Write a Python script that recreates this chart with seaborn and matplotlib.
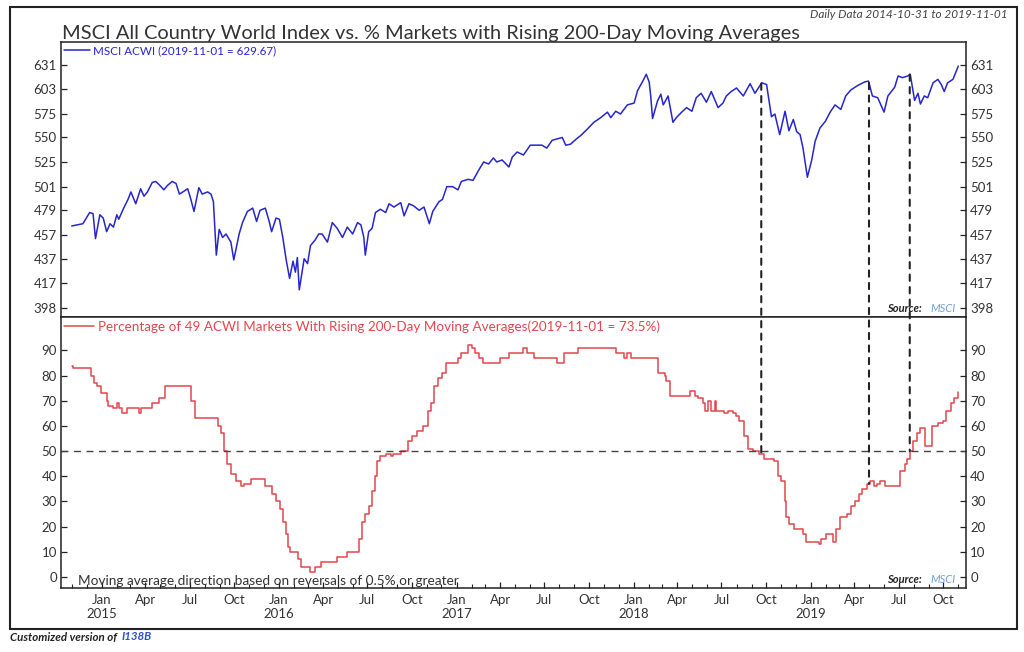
import matplotlib
matplotlib.use("Agg")
import matplotlib.pyplot as plt
import matplotlib.dates as mdates
from matplotlib.patches import Rectangle, ConnectionPatch
from matplotlib.ticker import FixedLocator, FuncFormatter, NullLocator
import numpy as np
import pandas as pd
import seaborn as sns

# ------------------------------
# Data
# ------------------------------
acwi_dates = [
    "2014-10-31", "2014-11-23", "2014-12-07", "2014-12-14", "2014-12-19", "2014-12-28",
    "2015-01-04", "2015-01-11", "2015-01-18", "2015-01-25", "2015-02-01", "2015-02-05",
    "2015-02-14", "2015-02-24", "2015-03-02", "2015-03-12", "2015-03-22", "2015-03-29",
    "2015-04-05", "2015-04-15", "2015-04-22", "2015-04-29", "2015-05-09", "2015-05-16",
    "2015-05-26", "2015-06-03", "2015-06-10", "2015-06-17", "2015-06-27", "2015-07-03",
    "2015-07-10", "2015-07-20", "2015-07-27", "2015-08-07", "2015-08-14", "2015-08-19",
    "2015-08-25", "2015-08-31", "2015-09-07", "2015-09-14", "2015-09-24", "2015-09-30",
    "2015-10-11", "2015-10-18", "2015-10-28", "2015-11-08", "2015-11-16", "2015-11-23",
    "2015-12-04", "2015-12-12", "2015-12-17", "2015-12-26", "2016-01-02", "2016-01-09",
    "2016-01-16", "2016-01-23", "2016-01-30", "2016-02-04", "2016-02-08", "2016-02-12",
    "2016-02-22", "2016-02-29", "2016-03-06", "2016-03-16", "2016-03-23", "2016-03-30",
    "2016-04-10", "2016-04-20", "2016-04-30", "2016-05-11", "2016-05-21", "2016-06-01",
    "2016-06-11", "2016-06-18", "2016-06-24", "2016-06-27", "2016-07-04", "2016-07-11",
    "2016-07-18", "2016-07-28", "2016-08-08", "2016-08-15", "2016-08-25", "2016-09-08",
    "2016-09-15", "2016-09-25", "2016-10-05", "2016-10-16", "2016-10-26", "2016-11-06",
    "2016-11-13", "2016-11-26", "2016-12-03", "2016-12-12", "2016-12-24", "2017-01-04",
    "2017-01-11", "2017-01-25", "2017-02-04", "2017-02-17", "2017-02-26", "2017-03-08",
    "2017-03-18", "2017-03-25", "2017-04-05", "2017-04-19", "2017-04-26", "2017-05-06",
    "2017-05-19", "2017-06-02", "2017-06-16", "2017-06-26", "2017-07-06", "2017-07-17",
    "2017-07-31", "2017-08-07", "2017-08-14", "2017-08-24", "2017-09-04", "2017-09-14",
    "2017-09-28", "2017-10-11", "2017-10-25", "2017-11-08", "2017-11-15", "2017-11-25",
    "2017-12-05", "2017-12-19", "2018-01-02", "2018-01-09", "2018-01-19", "2018-01-27",
    "2018-02-02", "2018-02-05", "2018-02-09", "2018-02-19", "2018-02-26", "2018-03-03",
    "2018-03-13", "2018-03-23", "2018-03-30", "2018-04-10", "2018-04-20", "2018-05-01",
    "2018-05-10", "2018-05-20", "2018-05-31", "2018-06-10", "2018-06-24", "2018-07-04",
    "2018-07-11", "2018-07-21", "2018-08-01", "2018-08-15", "2018-08-29", "2018-09-08",
    "2018-09-22", "2018-10-02", "2018-10-12", "2018-10-19", "2018-10-29", "2018-11-09",
    "2018-11-17", "2018-11-26", "2018-12-03", "2018-12-10", "2018-12-16", "2018-12-25",
    "2019-01-03", "2019-01-10", "2019-01-20", "2019-01-31", "2019-02-10", "2019-02-20",
    "2019-03-04", "2019-03-14", "2019-03-25", "2019-04-08", "2019-04-22", "2019-04-30",
    "2019-05-08", "2019-05-19", "2019-06-01", "2019-06-09", "2019-06-23", "2019-06-30",
    "2019-07-09", "2019-07-20", "2019-07-25", "2019-08-03", "2019-08-10", "2019-08-15",
    "2019-08-23", "2019-08-30", "2019-09-10", "2019-09-20", "2019-09-27", "2019-10-03",
    "2019-10-10", "2019-10-21", "2019-11-01",
]
acwi_values = [
    465, 467, 477, 476, 454, 475,
    472, 460, 467, 464, 475, 471,
    480, 489, 496, 485, 499, 492,
    496, 505, 506, 503, 498, 502,
    506, 504, 494, 496, 499, 490,
    478, 500, 494, 496, 494, 487,
    440, 462, 455, 458, 451, 436,
    458, 468, 478, 481, 469, 479,
    481, 469, 460, 472, 471, 455,
    436, 421, 435, 426, 438, 412,
    437, 433, 448, 453, 458, 458,
    451, 468, 463, 455, 464, 458,
    468, 466, 455, 440, 460, 463,
    477, 480, 477, 485, 482, 486,
    474, 485, 483, 479, 482, 467,
    478, 487, 489, 501, 501, 498,
    506, 508, 507, 518, 525, 523,
    529, 525, 527, 520, 530, 535,
    532, 542, 542, 542, 539, 547,
    549, 550, 542, 543, 548, 552,
    559, 566, 571, 577, 571, 578,
    575, 585, 587, 601, 611, 620,
    611, 596, 570, 589, 597, 585,
    595, 566, 571, 577, 582, 578,
    593, 598, 588, 600, 582, 587,
    595, 600, 604, 595, 609, 598,
    610, 608, 572, 575, 553, 578,
    557, 569, 556, 553, 539, 510,
    527, 546, 560, 567, 577, 585,
    580, 595, 602, 607, 611, 612,
    595, 593, 577, 595, 605, 618,
    616, 618, 620, 590, 598, 586,
    595, 593, 610, 614, 608, 600,
    610, 614, 629.67,
]

pct_dates = [
    "2014-10-31", "2014-11-03", "2014-12-09", "2014-12-16", "2014-12-23", "2014-12-30",
    "2015-01-11", "2015-01-14", "2015-01-25", "2015-02-01", "2015-02-05", "2015-02-11",
    "2015-02-21", "2015-03-19", "2015-03-22", "2015-04-15", "2015-04-29", "2015-05-12",
    "2015-07-03", "2015-07-12", "2015-08-29", "2015-09-03", "2015-09-10", "2015-09-17",
    "2015-09-24", "2015-10-04", "2015-10-14", "2015-10-21", "2015-11-04", "2015-12-04",
    "2015-12-18", "2015-12-26", "2016-01-03", "2016-01-09", "2016-01-16", "2016-01-20",
    "2016-01-23", "2016-02-09", "2016-02-15", "2016-03-06", "2016-03-16", "2016-03-27",
    "2016-04-30", "2016-05-21", "2016-06-14", "2016-06-21", "2016-06-27", "2016-07-04",
    "2016-07-11", "2016-07-18", "2016-07-22", "2016-07-28", "2016-08-08", "2016-08-20",
    "2016-08-24", "2016-09-08", "2016-09-22", "2016-10-02", "2016-10-12", "2016-10-23",
    "2016-11-03", "2016-11-10", "2016-11-16", "2016-11-23", "2016-12-03", "2016-12-10",
    "2017-01-04", "2017-01-11", "2017-01-25", "2017-02-01", "2017-02-08", "2017-02-17",
    "2017-02-24", "2017-03-31", "2017-04-19", "2017-05-19", "2017-05-26", "2017-06-09",
    "2017-07-28", "2017-08-11", "2017-09-08", "2017-11-25", "2017-12-12", "2017-12-19",
    "2017-12-26", "2018-02-21", "2018-03-07", "2018-03-09", "2018-03-16", "2018-04-27",
    "2018-05-07", "2018-05-14", "2018-05-24", "2018-05-28", "2018-06-03", "2018-06-10",
    "2018-06-17", "2018-06-20", "2018-07-07", "2018-07-14", "2018-07-24", "2018-07-31",
    "2018-08-07", "2018-08-17", "2018-08-24", "2018-09-03", "2018-09-17", "2018-09-27",
    "2018-10-18", "2018-10-25", "2018-11-01", "2018-11-08", "2018-11-11", "2018-11-18",
    "2018-11-28", "2018-12-15", "2018-12-22", "2019-01-19", "2019-01-22", "2019-02-01",
    "2019-02-15", "2019-02-21", "2019-03-03", "2019-03-17", "2019-03-24", "2019-04-03",
    "2019-04-10", "2019-04-17", "2019-04-27", "2019-05-04", "2019-05-11", "2019-05-18",
    "2019-05-24", "2019-06-03", "2019-07-04", "2019-07-14", "2019-07-19", "2019-07-24",
    "2019-07-31", "2019-08-07", "2019-08-14", "2019-08-24", "2019-09-07", "2019-09-20",
    "2019-09-30", "2019-10-07", "2019-10-16", "2019-10-24", "2019-11-01",
]
pct_values = [
    84, 83, 80, 77, 76, 73,
    70, 68, 67, 69, 67, 65,
    67, 65, 67, 69, 71, 76,
    70, 63, 60, 57, 50, 45,
    41, 38, 36, 37, 39, 36,
    33, 30, 27, 22, 17, 12,
    10, 7, 4, 2, 4, 6,
    8, 10, 15, 22, 25, 28,
    34, 40, 46, 48, 49, 48,
    49, 50, 54, 56, 58, 60,
    66, 69, 76, 79, 81, 85,
    87, 89, 92, 91, 89, 87,
    85, 87, 89, 91, 89, 87,
    85, 89, 91, 89, 87, 89,
    87, 81, 80, 78, 72, 74,
    72, 71, 69, 66, 70, 66,
    70, 66, 65, 66, 65, 64,
    62, 56, 51, 50, 49, 47,
    46, 40, 38, 30, 24, 21,
    19, 17, 14, 13, 15, 17,
    14, 19, 24, 25, 28, 30,
    33, 35, 37, 38, 36, 37,
    38, 36, 42, 45, 47, 50,
    54, 57, 59, 52, 60, 61,
    62, 66, 69, 71, 73.5,
]

# dates where the breadth line crosses back through 50
signal_dates = ["2018-09-21", "2019-05-01", "2019-07-24"]

acwi_ticks = [398, 417, 437, 457, 479, 501, 525, 550, 575, 603, 631]
pct_ticks = [0, 10, 20, 30, 40, 50, 60, 70, 80, 90]

BLUE = "#2626c9"
RED = "#e2474d"
TEXT = "#333333"

sns.set_theme(style="white")
plt.rcParams["font.family"] = ["Lato", "DejaVu Sans"]

acwi = pd.DataFrame({"date": pd.to_datetime(acwi_dates), "value": acwi_values})
pct = pd.DataFrame({"date": pd.to_datetime(pct_dates), "value": pct_values})

fig = plt.figure(figsize=(10.24, 6.52), dpi=100)
ax_top = fig.add_axes([0.0596, 0.5138, 0.8838, 0.4218])
ax_bot = fig.add_axes([0.0596, 0.0982, 0.8838, 0.4156], sharex=ax_top)

sns.lineplot(data=acwi, x="date", y="value", ax=ax_top, color=BLUE, lw=1.1,
             estimator=None, label="MSCI ACWI (2019-11-01 = 629.67)")
sns.lineplot(data=pct, x="date", y="value", ax=ax_bot, color=RED, lw=1.1,
             estimator=None, drawstyle="steps-post",
             label="Percentage of 49 ACWI Markets With Rising 200-Day Moving Averages(2019-11-01 = 73.5%)")

ax_bot.axhline(50, color="#444444", lw=1, linestyle=(0, (5, 4)))

# axes ranges
ax_bot.set_xlim(pd.Timestamp("2014-10-09"), pd.Timestamp("2019-11-17"))
ax_top.set_yscale("log")
ax_top.set_ylim(391.3, 659.1)
ax_bot.set_ylim(-4.4, 103.3)

ax_top.yaxis.set_major_locator(FixedLocator(acwi_ticks))
ax_top.yaxis.set_major_formatter(FuncFormatter(lambda v, p: f"{v:.0f}"))
ax_top.yaxis.set_minor_locator(NullLocator())
ax_bot.yaxis.set_major_locator(FixedLocator(pct_ticks))


def month_label(x, pos):
    d = mdates.num2date(x)
    s = d.strftime("%b")
    if d.month == 1:
        s += "\n" + str(d.year)
    return s


ax_bot.xaxis.set_major_locator(mdates.MonthLocator(bymonth=(1, 4, 7, 10)))
ax_bot.xaxis.set_minor_locator(mdates.MonthLocator())
ax_bot.xaxis.set_major_formatter(FuncFormatter(month_label))

for ax in (ax_top, ax_bot):
    ax.set_xlabel("")
    ax.set_ylabel("")
    for sp in ax.spines.values():
        sp.set_color("#222222")
        sp.set_linewidth(1.1)
    ax.tick_params(axis="y", which="major", direction="in", length=4, width=0.9,
                   left=True, right=True, labelleft=True, labelright=True,
                   labelsize=9.5, labelcolor=TEXT, color="#222222", pad=3)

ax_top.tick_params(axis="x", which="both", bottom=False, labelbottom=False)
ax_bot.tick_params(axis="x", which="major", direction="in", length=4, width=0.9,
                   bottom=True, labelsize=9.5, labelcolor=TEXT, color="#222222", pad=4)
ax_bot.tick_params(axis="x", which="minor", direction="in", length=3, width=0.8,
                   bottom=True, color="#222222")

# legends as coloured text
for ax, fs in ((ax_top, 8.4), (ax_bot, 9.7)):
    ax.legend(loc="upper left", bbox_to_anchor=(0.0, 1.0), frameon=False, fontsize=fs,
              handlelength=2.2, handletextpad=0.3, borderaxespad=0.0, borderpad=0.25,
              labelcolor="linecolor")

# source notes
for ax, yy in ((ax_top, 0.012), (ax_bot, 0.012)):
    ax.text(0.951, yy, "Source:", transform=ax.transAxes, ha="right", va="bottom",
            fontsize=8, fontweight="bold", style="italic", color="#222222")
    ax.text(0.961, yy, "MSCI", transform=ax.transAxes, ha="left", va="bottom",
            fontsize=8, style="italic", color="#6f9fd6")

ax_bot.text(0.019, 0.004, "Moving average direction based on reversals of 0.5% or greater",
            transform=ax_bot.transAxes, ha="left", va="bottom", fontsize=9.8, color=TEXT)

# dashed connectors from the index down to the breadth line
acwi_num = mdates.date2num(acwi["date"])
pct_num = mdates.date2num(pct["date"])
for d in signal_dates:
    dn = mdates.date2num(pd.Timestamp(d))
    price = np.interp(dn, acwi_num, acwi["value"])
    level = pct["value"].iloc[np.searchsorted(pct_num, dn, side="right") - 1]
    con = ConnectionPatch(xyA=(dn, price), coordsA=ax_top.transData,
                          xyB=(dn, level), coordsB=ax_bot.transData,
                          color="#222222", lw=1.5, linestyle=(0, (3, 3)), zorder=5)
    fig.add_artist(con)

# title, header, frame, footer
fig.text(62 / 1024, 1 - 33 / 652,
         "MSCI All Country World Index vs. % Markets with Rising 200-Day Moving Averages",
         ha="left", va="center", fontsize=14.4, color=TEXT)
fig.text(1008 / 1024, 1 - 15 / 652, "Daily Data 2014-10-31 to 2019-11-01",
         ha="right", va="center", fontsize=8.5, style="italic", color="#444444")
fig.add_artist(Rectangle((10 / 1024, 1 - 629 / 652), 1007 / 1024, 622 / 652,
                         transform=fig.transFigure, fill=False,
                         edgecolor="#222222", lw=1.5))
fig.text(10 / 1024, 1 - 637 / 652, "Customized version of", ha="left", va="center",
         fontsize=8.3, fontweight="bold", style="italic", color="#222222")
fig.text(122 / 1024, 1 - 637 / 652, "I138B", ha="left", va="center",
         fontsize=8.3, fontweight="bold", style="italic", color="#2a4fd0")

fig.savefig("out.png", dpi=100)
